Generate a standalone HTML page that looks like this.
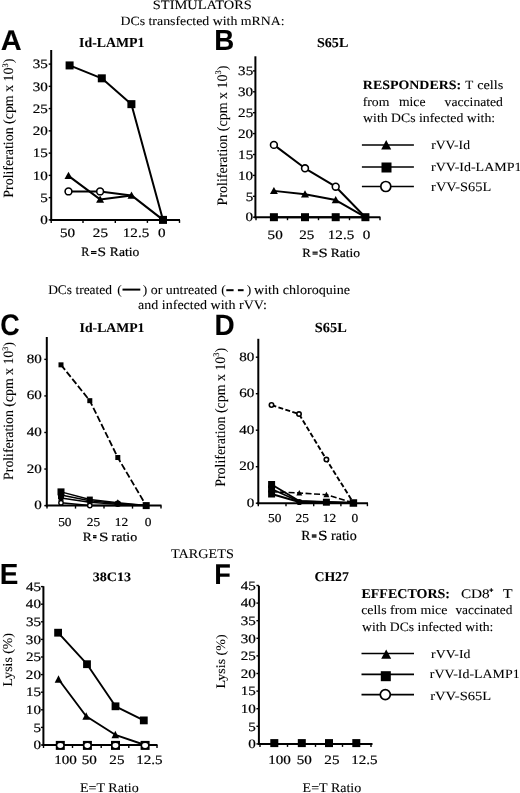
<!DOCTYPE html>
<html><head><meta charset="utf-8"><style>
html,body{margin:0;padding:0;background:#fff;}
body{width:520px;height:793px;overflow:hidden;}
svg{display:block;filter:grayscale(1) blur(0.35px);}
text{fill:#000;stroke:#000;stroke-width:0.08px;text-rendering:geometricPrecision;}
text.n{stroke-width:0.2px;}
text.s{stroke-width:0.2px;}
</style></head><body>
<svg width="520" height="793" viewBox="0 0 520 793">
<rect width="520" height="793" fill="#fff"/>
<text transform="translate(152.83,8.7) scale(1.1236,1)" font-family='"Liberation Serif", serif' font-weight="normal" font-size="12.83">STIMULATORS</text>
<text transform="translate(120.42,25.3) scale(1.0986,1)" font-family='"Liberation Serif", serif' font-weight="normal" font-size="12.62">DCs transfected with mRNA:</text>
<text transform="translate(0.68,49.8) scale(1.0156,1)" font-family='"Liberation Sans", sans-serif' font-weight="bold" font-size="28.51">A</text>
<text transform="translate(214.33,50) scale(0.9524,1)" font-family='"Liberation Sans", sans-serif' font-weight="bold" font-size="29.09">B</text>
<text transform="translate(0.13,335.4) scale(0.9011,1)" font-family='"Liberation Sans", sans-serif' font-weight="bold" font-size="29.82">C</text>
<text transform="translate(214.52,335.2) scale(0.9502,1)" font-family='"Liberation Sans", sans-serif' font-weight="bold" font-size="29.38">D</text>
<text transform="translate(-0.18,583.6) scale(0.9624,1)" font-family='"Liberation Sans", sans-serif' font-weight="bold" font-size="28.95">E</text>
<text transform="translate(214.36,583.6) scale(0.9442,1)" font-family='"Liberation Sans", sans-serif' font-weight="bold" font-size="28.8">F</text>
<text transform="translate(79.05,46.5) scale(1.0038,1)" font-family='"Liberation Serif", serif' font-weight="bold" font-size="13.81">Id-LAMP1</text>
<text transform="translate(316.96,46.5) scale(1.0380,1)" font-family='"Liberation Serif", serif' font-weight="bold" font-size="13.58">S65L</text>
<text transform="translate(79.55,331.9) scale(1.0393,1)" font-family='"Liberation Serif", serif' font-weight="bold" font-size="13.24">Id-LAMP1</text>
<text transform="translate(314.85,331.7) scale(1.0324,1)" font-family='"Liberation Serif", serif' font-weight="bold" font-size="13.89">S65L</text>
<text transform="translate(92.77,581.1) scale(1.0884,1)" font-family='"Liberation Serif", serif' font-weight="bold" font-size="12.93">38C13</text>
<text transform="translate(314.44,581.1) scale(1.0273,1)" font-family='"Liberation Serif", serif' font-weight="bold" font-size="13.43">CH27</text>
<line x1="51.2" y1="50" x2="51.2" y2="220.9" stroke="#000" stroke-width="2"/>
<line x1="50.2" y1="219.9" x2="180" y2="219.9" stroke="#000" stroke-width="2"/>
<line x1="48.7" y1="219.9" x2="51.2" y2="219.9" stroke="#000" stroke-width="1.4"/>
<text transform="translate(40.21,224.1) scale(1.1824,1)" font-family='"Liberation Serif", serif' font-weight="normal" font-size="12.78" class="n">0</text>
<line x1="48.7" y1="197.64" x2="51.2" y2="197.64" stroke="#000" stroke-width="1.4"/>
<text transform="translate(40.25,201.84) scale(1.1824,1)" font-family='"Liberation Serif", serif' font-weight="normal" font-size="12.78" class="n">5</text>
<line x1="48.7" y1="175.38" x2="51.2" y2="175.38" stroke="#000" stroke-width="1.4"/>
<text transform="translate(32.66,179.58) scale(1.1824,1)" font-family='"Liberation Serif", serif' font-weight="normal" font-size="12.78" class="n">10</text>
<line x1="48.7" y1="153.12" x2="51.2" y2="153.12" stroke="#000" stroke-width="1.4"/>
<text transform="translate(32.7,157.32) scale(1.1824,1)" font-family='"Liberation Serif", serif' font-weight="normal" font-size="12.78" class="n">15</text>
<line x1="48.7" y1="130.86" x2="51.2" y2="130.86" stroke="#000" stroke-width="1.4"/>
<text transform="translate(32.66,135.06) scale(1.1824,1)" font-family='"Liberation Serif", serif' font-weight="normal" font-size="12.78" class="n">20</text>
<line x1="48.7" y1="108.6" x2="51.2" y2="108.6" stroke="#000" stroke-width="1.4"/>
<text transform="translate(32.7,112.8) scale(1.1824,1)" font-family='"Liberation Serif", serif' font-weight="normal" font-size="12.78" class="n">25</text>
<line x1="48.7" y1="86.34" x2="51.2" y2="86.34" stroke="#000" stroke-width="1.4"/>
<text transform="translate(32.66,90.54) scale(1.1824,1)" font-family='"Liberation Serif", serif' font-weight="normal" font-size="12.78" class="n">30</text>
<line x1="48.7" y1="64.08" x2="51.2" y2="64.08" stroke="#000" stroke-width="1.4"/>
<text transform="translate(32.7,68.28) scale(1.1824,1)" font-family='"Liberation Serif", serif' font-weight="normal" font-size="12.78" class="n">35</text>
<line x1="51.2" y1="219.9" x2="51.2" y2="222.9" stroke="#000" stroke-width="1.4"/>
<line x1="83" y1="219.9" x2="83" y2="222.9" stroke="#000" stroke-width="1.4"/>
<line x1="115.3" y1="219.9" x2="115.3" y2="222.9" stroke="#000" stroke-width="1.4"/>
<line x1="147.4" y1="219.9" x2="147.4" y2="222.9" stroke="#000" stroke-width="1.4"/>
<line x1="179.5" y1="219.9" x2="179.5" y2="222.9" stroke="#000" stroke-width="1.4"/>
<polyline points="69.6,65.42 101.8,78.33 131.4,104.15 163,219.9" fill="none" stroke="#000" stroke-width="2" stroke-linejoin="round"/>
<polyline points="68.5,175.83 100.1,199.42 131.5,195.41 163,219.9" fill="none" stroke="#000" stroke-width="2" stroke-linejoin="round"/>
<polyline points="68.5,191.41 100.1,191.41 131.5,195.41" fill="none" stroke="#000" stroke-width="2" stroke-linejoin="round"/>
<circle cx="68.5" cy="191.41" r="3.4" fill="#fff" stroke="#000" stroke-width="1.6"/>
<circle cx="100.1" cy="191.41" r="3.4" fill="#fff" stroke="#000" stroke-width="1.6"/>
<polygon points="68.5,171.87 64.5,179.07 72.5,179.07" fill="#000"/>
<polygon points="100.1,195.46 96.1,202.66 104.1,202.66" fill="#000"/>
<polygon points="131.5,191.45 127.5,198.65 135.5,198.65" fill="#000"/>
<rect x="65.6" y="61.42" width="8" height="8" fill="#000"/>
<rect x="97.8" y="74.33" width="8" height="8" fill="#000"/>
<rect x="127.4" y="100.15" width="8" height="8" fill="#000"/>
<rect x="159" y="215.9" width="8" height="8" fill="#000"/>
<text transform="translate(60,237.1) scale(1.1824,1)" font-family='"Liberation Serif", serif' font-weight="normal" font-size="12.78" class="n">50</text>
<text transform="translate(92.83,237.1) scale(1.1824,1)" font-family='"Liberation Serif", serif' font-weight="normal" font-size="12.78" class="n">25</text>
<text transform="translate(122.82,237.1) scale(1.1824,1)" font-family='"Liberation Serif", serif' font-weight="normal" font-size="12.78" class="n">12.5</text>
<text transform="translate(158.02,237.1) scale(1.1824,1)" font-family='"Liberation Serif", serif' font-weight="normal" font-size="12.78" class="n">0</text>
<text transform="translate(81.36,256.3) scale(0.9541,1)" font-family='"Liberation Serif", serif' font-weight="normal" font-size="12.82" class="s">R</text>
<text transform="translate(97.46,256.3) scale(1.2038,1)" font-family='"Liberation Serif", serif' font-weight="normal" font-size="12.82" class="s">S</text>
<text transform="translate(109.83,256.3) scale(1.0607,1)" font-family='"Liberation Serif", serif' font-weight="normal" font-size="12.82" class="s">Ratio</text>
<rect x="91" y="251" width="5.5" height="1.2" fill="#000"/>
<rect x="91" y="252.8" width="5.5" height="1.2" fill="#000"/>
<text transform="translate(13.2,197.68) rotate(-90) scale(0.9812,1)" font-family='"Liberation Serif", serif' font-weight="normal" font-size="14.18">Proliferation (cpm x 10<tspan font-size="8.51" dy="-5.67">3</tspan><tspan dy="5.67">)</tspan></text>
<line x1="255.4" y1="56.3" x2="255.4" y2="218.2" stroke="#000" stroke-width="2"/>
<line x1="254.4" y1="217.2" x2="380.4" y2="217.2" stroke="#000" stroke-width="2"/>
<line x1="252.9" y1="217.2" x2="255.4" y2="217.2" stroke="#000" stroke-width="1.4"/>
<text transform="translate(245.61,221.4) scale(1.1824,1)" font-family='"Liberation Serif", serif' font-weight="normal" font-size="12.78" class="n">0</text>
<line x1="252.9" y1="196.3" x2="255.4" y2="196.3" stroke="#000" stroke-width="1.4"/>
<text transform="translate(245.65,200.5) scale(1.1824,1)" font-family='"Liberation Serif", serif' font-weight="normal" font-size="12.78" class="n">5</text>
<line x1="252.9" y1="175.4" x2="255.4" y2="175.4" stroke="#000" stroke-width="1.4"/>
<text transform="translate(238.06,179.6) scale(1.1824,1)" font-family='"Liberation Serif", serif' font-weight="normal" font-size="12.78" class="n">10</text>
<line x1="252.9" y1="154.5" x2="255.4" y2="154.5" stroke="#000" stroke-width="1.4"/>
<text transform="translate(238.1,158.7) scale(1.1824,1)" font-family='"Liberation Serif", serif' font-weight="normal" font-size="12.78" class="n">15</text>
<line x1="252.9" y1="133.6" x2="255.4" y2="133.6" stroke="#000" stroke-width="1.4"/>
<text transform="translate(238.06,137.8) scale(1.1824,1)" font-family='"Liberation Serif", serif' font-weight="normal" font-size="12.78" class="n">20</text>
<line x1="252.9" y1="112.7" x2="255.4" y2="112.7" stroke="#000" stroke-width="1.4"/>
<text transform="translate(238.1,116.9) scale(1.1824,1)" font-family='"Liberation Serif", serif' font-weight="normal" font-size="12.78" class="n">25</text>
<line x1="252.9" y1="91.8" x2="255.4" y2="91.8" stroke="#000" stroke-width="1.4"/>
<text transform="translate(238.06,96) scale(1.1824,1)" font-family='"Liberation Serif", serif' font-weight="normal" font-size="12.78" class="n">30</text>
<line x1="252.9" y1="70.9" x2="255.4" y2="70.9" stroke="#000" stroke-width="1.4"/>
<text transform="translate(238.1,75.1) scale(1.1824,1)" font-family='"Liberation Serif", serif' font-weight="normal" font-size="12.78" class="n">35</text>
<line x1="256" y1="217.2" x2="256" y2="220.2" stroke="#000" stroke-width="1.4"/>
<line x1="287.5" y1="217.2" x2="287.5" y2="220.2" stroke="#000" stroke-width="1.4"/>
<line x1="318.5" y1="217.2" x2="318.5" y2="220.2" stroke="#000" stroke-width="1.4"/>
<line x1="349.5" y1="217.2" x2="349.5" y2="220.2" stroke="#000" stroke-width="1.4"/>
<line x1="380" y1="217.2" x2="380" y2="220.2" stroke="#000" stroke-width="1.4"/>
<polyline points="273.9,144.89 305,168.29 335.7,186.69 365.4,217.2" fill="none" stroke="#000" stroke-width="2" stroke-linejoin="round"/>
<polyline points="273.9,190.87 305,194.21 335.7,200.06 365.4,217.2" fill="none" stroke="#000" stroke-width="2" stroke-linejoin="round"/>
<polyline points="273.9,217.2 305,217.2 335.7,217.2 365.4,217.2" fill="none" stroke="#000" stroke-width="2" stroke-linejoin="round"/>
<circle cx="273.9" cy="144.89" r="3.4" fill="#fff" stroke="#000" stroke-width="1.6"/>
<circle cx="305" cy="168.29" r="3.4" fill="#fff" stroke="#000" stroke-width="1.6"/>
<circle cx="335.7" cy="186.69" r="3.4" fill="#fff" stroke="#000" stroke-width="1.6"/>
<polygon points="273.9,186.91 269.9,194.11 277.9,194.11" fill="#000"/>
<polygon points="305,190.25 301,197.45 309,197.45" fill="#000"/>
<polygon points="335.7,196.1 331.7,203.3 339.7,203.3" fill="#000"/>
<rect x="269.9" y="213.2" width="8" height="8" fill="#000"/>
<rect x="301" y="213.2" width="8" height="8" fill="#000"/>
<rect x="331.7" y="213.2" width="8" height="8" fill="#000"/>
<rect x="361.4" y="213.2" width="8" height="8" fill="#000"/>
<text transform="translate(267.6,238.6) scale(1.1824,1)" font-family='"Liberation Serif", serif' font-weight="normal" font-size="12.78" class="n">50</text>
<text transform="translate(299.23,238.6) scale(1.1824,1)" font-family='"Liberation Serif", serif' font-weight="normal" font-size="12.78" class="n">25</text>
<text transform="translate(327.82,238.6) scale(1.1824,1)" font-family='"Liberation Serif", serif' font-weight="normal" font-size="12.78" class="n">12.5</text>
<text transform="translate(362.82,238.6) scale(1.1824,1)" font-family='"Liberation Serif", serif' font-weight="normal" font-size="12.78" class="n">0</text>
<text transform="translate(302.35,256.9) scale(1.0275,1)" font-family='"Liberation Serif", serif' font-weight="normal" font-size="12.52" class="s">R</text>
<text transform="translate(318.38,256.9) scale(1.3266,1)" font-family='"Liberation Serif", serif' font-weight="normal" font-size="12.52" class="s">S</text>
<text transform="translate(330.63,256.9) scale(1.0828,1)" font-family='"Liberation Serif", serif' font-weight="normal" font-size="12.52" class="s">Ratio</text>
<rect x="312.5" y="251.6" width="5.2" height="1.2" fill="#000"/>
<rect x="312.5" y="253.4" width="5.2" height="1.2" fill="#000"/>
<text transform="translate(226.5,205.38) rotate(-90) scale(0.9668,1)" font-family='"Liberation Serif", serif' font-weight="normal" font-size="14.47">Proliferation (cpm x 10<tspan font-size="8.68" dy="-5.79">3</tspan><tspan dy="5.79">)</tspan></text>
<text transform="translate(362.86,89.3) scale(1.0992,1)" font-family='"Liberation Serif", serif' font-weight="bold" font-size="12.68">RESPONDERS:</text>
<text transform="translate(465.17,89.3) scale(1.0385,1)" font-family='"Liberation Serif", serif' font-weight="normal" font-size="12.67">T</text>
<text transform="translate(477.16,89.3) scale(1.1409,1)" font-family='"Liberation Serif", serif' font-weight="normal" font-size="12.52">cells</text>
<text transform="translate(362.69,105.5) scale(1.0896,1)" font-family='"Liberation Serif", serif' font-weight="normal" font-size="12.62">from</text>
<text transform="translate(398.93,105.5) scale(1.0161,1)" font-family='"Liberation Serif", serif' font-weight="normal" font-size="13.43">mice</text>
<text transform="translate(444.6,105.5) scale(1.0662,1)" font-family='"Liberation Serif", serif' font-weight="normal" font-size="12.81">vaccinated</text>
<text transform="translate(363.1,121.6) scale(1.0791,1)" font-family='"Liberation Serif", serif' font-weight="normal" font-size="12.77">with DCs infected with:</text>
<line x1="361.9" y1="145" x2="413.9" y2="145" stroke="#000" stroke-width="1.7"/>
<polygon points="386.2,140.02 381.2,149.62 391.2,149.62" fill="#000"/>
<line x1="361.9" y1="167" x2="413.9" y2="167" stroke="#000" stroke-width="1.7"/>
<rect x="381.5" y="162.5" width="10" height="10" fill="#000"/>
<line x1="361.9" y1="186.5" x2="413.9" y2="186.5" stroke="#000" stroke-width="1.7"/>
<circle cx="385.8" cy="186.5" r="5" fill="#fff" stroke="#000" stroke-width="1.7"/>
<text transform="translate(431.13,148.6) scale(1.0754,1)" font-family='"Liberation Serif", serif' font-weight="normal" font-size="12.66">rVV-Id</text>
<text transform="translate(431.12,170.5) scale(1.1165,1)" font-family='"Liberation Serif", serif' font-weight="normal" font-size="12.52">rVV-Id-LAMP1</text>
<text transform="translate(431.11,190.8) scale(1.1072,1)" font-family='"Liberation Serif", serif' font-weight="normal" font-size="12.98">rVV-S65L</text>
<text transform="translate(48.13,293.5) scale(1.0286,1)" font-family='"Liberation Serif", serif' font-weight="normal" font-size="13.09">DCs treated</text>
<text transform="translate(117.13,293.5) scale(1.0286,1)" font-family='"Liberation Serif", serif' font-weight="normal" font-size="13.09">(</text>
<line x1="122.5" y1="289.6" x2="140.3" y2="289.6" stroke="#000" stroke-width="2"/>
<text transform="translate(142.76,293.5) scale(1.0286,1)" font-family='"Liberation Serif", serif' font-weight="normal" font-size="13.09">)</text>
<text transform="translate(150.78,293.5) scale(1.0574,1)" font-family='"Liberation Serif", serif' font-weight="normal" font-size="13.09">or untreated</text>
<text transform="translate(221.13,293.5) scale(1.0286,1)" font-family='"Liberation Serif", serif' font-weight="normal" font-size="13.09">(</text>
<line x1="226.3" y1="290.2" x2="233.6" y2="290.2" stroke="#000" stroke-width="2"/>
<line x1="237.9" y1="290.2" x2="243.6" y2="290.2" stroke="#000" stroke-width="2"/>
<text transform="translate(246.66,293.5) scale(1.0286,1)" font-family='"Liberation Serif", serif' font-weight="normal" font-size="13.09">)</text>
<text transform="translate(254,293.5) scale(1.0796,1)" font-family='"Liberation Serif", serif' font-weight="normal" font-size="13.09">with chloroquine</text>
<text transform="translate(138.01,309.4) scale(1.0734,1)" font-family='"Liberation Serif", serif' font-weight="normal" font-size="13.09">and infected with rVV:</text>
<line x1="46.8" y1="337" x2="46.8" y2="506.6" stroke="#000" stroke-width="2"/>
<line x1="45.8" y1="505.6" x2="161.5" y2="505.6" stroke="#000" stroke-width="2"/>
<line x1="44.3" y1="505.6" x2="46.8" y2="505.6" stroke="#000" stroke-width="1.4"/>
<text transform="translate(34.31,509.1) scale(1.1824,1)" font-family='"Liberation Serif", serif' font-weight="normal" font-size="12.78" class="n">0</text>
<line x1="44.3" y1="469.04" x2="46.8" y2="469.04" stroke="#000" stroke-width="1.4"/>
<text transform="translate(26.76,472.54) scale(1.1824,1)" font-family='"Liberation Serif", serif' font-weight="normal" font-size="12.78" class="n">20</text>
<line x1="44.3" y1="432.48" x2="46.8" y2="432.48" stroke="#000" stroke-width="1.4"/>
<text transform="translate(26.76,435.98) scale(1.1824,1)" font-family='"Liberation Serif", serif' font-weight="normal" font-size="12.78" class="n">40</text>
<line x1="44.3" y1="395.92" x2="46.8" y2="395.92" stroke="#000" stroke-width="1.4"/>
<text transform="translate(26.76,399.42) scale(1.1824,1)" font-family='"Liberation Serif", serif' font-weight="normal" font-size="12.78" class="n">60</text>
<line x1="44.3" y1="359.36" x2="46.8" y2="359.36" stroke="#000" stroke-width="1.4"/>
<text transform="translate(26.76,362.86) scale(1.1824,1)" font-family='"Liberation Serif", serif' font-weight="normal" font-size="12.78" class="n">80</text>
<line x1="47" y1="505.6" x2="47" y2="508.6" stroke="#000" stroke-width="1.4"/>
<line x1="75.5" y1="505.6" x2="75.5" y2="508.6" stroke="#000" stroke-width="1.4"/>
<line x1="104" y1="505.6" x2="104" y2="508.6" stroke="#000" stroke-width="1.4"/>
<line x1="132.5" y1="505.6" x2="132.5" y2="508.6" stroke="#000" stroke-width="1.4"/>
<line x1="161" y1="505.6" x2="161" y2="508.6" stroke="#000" stroke-width="1.4"/>
<polyline points="61,364.84 89.8,400.67 117.8,457.52 146.2,505.6" fill="none" stroke="#000" stroke-width="1.8" stroke-linejoin="round" stroke-dasharray="6.5,2.5"/>
<rect x="58.5" y="362.34" width="5" height="5" fill="#000"/>
<rect x="87.3" y="398.17" width="5" height="5" fill="#000"/>
<rect x="115.3" y="455.02" width="5" height="5" fill="#000"/>
<polyline points="61,491.89 89.8,499.57 117.8,502.86 146.2,505.6" fill="none" stroke="#000" stroke-width="1.5" stroke-linejoin="round"/>
<polyline points="61,495 89.8,500.85 117.8,503.41 146.2,505.6" fill="none" stroke="#000" stroke-width="1.5" stroke-linejoin="round"/>
<polyline points="61,497.92 89.8,502.31 117.8,504.14 146.2,505.6" fill="none" stroke="#000" stroke-width="1.5" stroke-linejoin="round"/>
<polyline points="61,502.68 89.8,505.6 117.8,505.6 146.2,505.6" fill="none" stroke="#000" stroke-width="1.5" stroke-linejoin="round"/>
<rect x="57.5" y="488.39" width="7" height="7" fill="#000"/>
<rect x="58" y="493.09" width="6" height="6" fill="#000"/>
<polygon points="61,495.54 58,500.54 64,500.54" fill="#000"/>
<circle cx="61" cy="502.68" r="2.2" fill="#fff" stroke="#000" stroke-width="1.4"/>
<rect x="86.8" y="496.57" width="6" height="6" fill="#000"/>
<polygon points="89.8,498.83 86.8,503.83 92.8,503.83" fill="#000"/>
<circle cx="89.8" cy="505.6" r="2.2" fill="#fff" stroke="#000" stroke-width="1.4"/>
<circle cx="117.8" cy="503.77" r="3.3" fill="#000"/>
<polygon points="117.8,499.19 114.8,504.19 120.8,504.19" fill="#000"/>
<rect x="142.7" y="502.1" width="7" height="7" fill="#000"/>
<text transform="translate(58.16,525.6) scale(1.1044,1)" font-family='"Liberation Serif", serif' font-weight="normal" font-size="12.14" class="n">50</text>
<text transform="translate(86.78,525.6) scale(1.1044,1)" font-family='"Liberation Serif", serif' font-weight="normal" font-size="12.14" class="n">25</text>
<text transform="translate(114.78,525.6) scale(1.1044,1)" font-family='"Liberation Serif", serif' font-weight="normal" font-size="12.14" class="n">12</text>
<text transform="translate(144.75,525.6) scale(1.1044,1)" font-family='"Liberation Serif", serif' font-weight="normal" font-size="12.14" class="n">0</text>
<text transform="translate(82.83,540.5) scale(1.0646,1)" font-family='"Liberation Serif", serif' font-weight="normal" font-size="12.67" class="s">R</text>
<text transform="translate(99.05,540.5) scale(1.3476,1)" font-family='"Liberation Serif", serif' font-weight="normal" font-size="12.67" class="s">S</text>
<text transform="translate(111.52,540.5) scale(1.1115,1)" font-family='"Liberation Serif", serif' font-weight="normal" font-size="12.67" class="s">ratio</text>
<rect x="93" y="535.1" width="3.5" height="1.4" fill="#000"/>
<rect x="93" y="536.9" width="3.5" height="1.4" fill="#000"/>
<text transform="translate(13.2,479.88) rotate(-90) scale(0.9734,1)" font-family='"Liberation Serif", serif' font-weight="normal" font-size="14.18">Proliferation (cpm x 10<tspan font-size="8.51" dy="-5.67">3</tspan><tspan dy="5.67">)</tspan></text>
<line x1="258.3" y1="338.8" x2="258.3" y2="504.2" stroke="#000" stroke-width="2"/>
<line x1="257.3" y1="503.2" x2="368" y2="503.2" stroke="#000" stroke-width="2"/>
<line x1="255.8" y1="503.2" x2="258.3" y2="503.2" stroke="#000" stroke-width="1.4"/>
<text transform="translate(246.81,506.7) scale(1.1824,1)" font-family='"Liberation Serif", serif' font-weight="normal" font-size="12.78" class="n">0</text>
<line x1="255.8" y1="466.7" x2="258.3" y2="466.7" stroke="#000" stroke-width="1.4"/>
<text transform="translate(239.26,470.2) scale(1.1824,1)" font-family='"Liberation Serif", serif' font-weight="normal" font-size="12.78" class="n">20</text>
<line x1="255.8" y1="430.2" x2="258.3" y2="430.2" stroke="#000" stroke-width="1.4"/>
<text transform="translate(239.26,433.7) scale(1.1824,1)" font-family='"Liberation Serif", serif' font-weight="normal" font-size="12.78" class="n">40</text>
<line x1="255.8" y1="393.7" x2="258.3" y2="393.7" stroke="#000" stroke-width="1.4"/>
<text transform="translate(239.26,397.2) scale(1.1824,1)" font-family='"Liberation Serif", serif' font-weight="normal" font-size="12.78" class="n">60</text>
<line x1="255.8" y1="357.2" x2="258.3" y2="357.2" stroke="#000" stroke-width="1.4"/>
<text transform="translate(239.26,360.7) scale(1.1824,1)" font-family='"Liberation Serif", serif' font-weight="normal" font-size="12.78" class="n">80</text>
<line x1="258.3" y1="503.2" x2="258.3" y2="506.2" stroke="#000" stroke-width="1.4"/>
<line x1="286" y1="503.2" x2="286" y2="506.2" stroke="#000" stroke-width="1.4"/>
<line x1="313.7" y1="503.2" x2="313.7" y2="506.2" stroke="#000" stroke-width="1.4"/>
<line x1="340.9" y1="503.2" x2="340.9" y2="506.2" stroke="#000" stroke-width="1.4"/>
<line x1="367.4" y1="503.2" x2="367.4" y2="506.2" stroke="#000" stroke-width="1.4"/>
<polyline points="271.5,405 299,414.1 326.4,459.6 353.4,502.8" fill="none" stroke="#000" stroke-width="1.9" stroke-linejoin="round" stroke-dasharray="5,2.3"/>
<circle cx="271.5" cy="405" r="2.2" fill="#fff" stroke="#000" stroke-width="1.6"/>
<circle cx="299" cy="414.1" r="2.2" fill="#fff" stroke="#000" stroke-width="1.6"/>
<circle cx="326.4" cy="459.6" r="2.2" fill="#fff" stroke="#000" stroke-width="1.6"/>
<polyline points="271.6,491.8 299.3,493 326.4,494.7 353.4,503" fill="none" stroke="#000" stroke-width="1.6" stroke-linejoin="round" stroke-dasharray="6,2.5"/>
<polyline points="271.6,484.5 299.3,501 326.4,502 353.4,503" fill="none" stroke="#000" stroke-width="1.9" stroke-linejoin="round"/>
<polyline points="271.6,489 299.3,501.5 326.4,502.3 353.4,503" fill="none" stroke="#000" stroke-width="1.9" stroke-linejoin="round"/>
<polyline points="271.6,494 299.3,502 326.4,502.6 353.4,503" fill="none" stroke="#000" stroke-width="1.9" stroke-linejoin="round"/>
<rect x="268.1" y="481" width="7" height="7" fill="#000"/>
<rect x="268.1" y="485.5" width="7" height="7" fill="#000"/>
<rect x="268.1" y="490.5" width="7" height="7" fill="#000"/>
<polygon points="299.3,489.98 296.3,495.48 302.3,495.48" fill="#000"/>
<polygon points="326.4,491.68 323.4,497.18 329.4,497.18" fill="#000"/>
<circle cx="299.3" cy="502" r="3.1" fill="#000"/>
<rect x="322.9" y="498.7" width="7" height="7" fill="#000"/>
<rect x="349.65" y="499.25" width="7.5" height="7.5" fill="#000"/>
<text transform="translate(268.06,521.5) scale(1.1044,1)" font-family='"Liberation Serif", serif' font-weight="normal" font-size="12.14" class="n">50</text>
<text transform="translate(295.58,521.5) scale(1.1044,1)" font-family='"Liberation Serif", serif' font-weight="normal" font-size="12.14" class="n">25</text>
<text transform="translate(322.78,521.5) scale(1.1044,1)" font-family='"Liberation Serif", serif' font-weight="normal" font-size="12.14" class="n">12</text>
<text transform="translate(351.45,521.5) scale(1.1044,1)" font-family='"Liberation Serif", serif' font-weight="normal" font-size="12.14" class="n">0</text>
<text transform="translate(301.32,539.8) scale(0.9936,1)" font-family='"Liberation Serif", serif' font-weight="normal" font-size="13.89" class="s">R</text>
<text transform="translate(318.03,539.8) scale(1.2459,1)" font-family='"Liberation Serif", serif' font-weight="normal" font-size="13.89" class="s">S</text>
<text transform="translate(331.02,539.8) scale(1.0097,1)" font-family='"Liberation Serif", serif' font-weight="normal" font-size="13.89" class="s">ratio</text>
<rect x="311.8" y="534.4" width="4.7" height="1.4" fill="#000"/>
<rect x="311.8" y="536.2" width="4.7" height="1.4" fill="#000"/>
<text transform="translate(224.9,486.78) rotate(-90) scale(0.9606,1)" font-family='"Liberation Serif", serif' font-weight="normal" font-size="14.47">Proliferation (cpm x 10<tspan font-size="8.68" dy="-5.79">3</tspan><tspan dy="5.79">)</tspan></text>
<text transform="translate(171.05,557.5) scale(1.0820,1)" font-family='"Liberation Serif", serif' font-weight="normal" font-size="13.13">TARGETS</text>
<line x1="43.4" y1="586.2" x2="43.4" y2="746" stroke="#000" stroke-width="2"/>
<line x1="42.4" y1="745" x2="157.5" y2="745" stroke="#000" stroke-width="2"/>
<line x1="40.9" y1="745" x2="43.4" y2="745" stroke="#000" stroke-width="1.4"/>
<text transform="translate(33.41,749.2) scale(1.1824,1)" font-family='"Liberation Serif", serif' font-weight="normal" font-size="12.78" class="n">0</text>
<line x1="40.9" y1="727.4" x2="43.4" y2="727.4" stroke="#000" stroke-width="1.4"/>
<text transform="translate(33.45,731.6) scale(1.1824,1)" font-family='"Liberation Serif", serif' font-weight="normal" font-size="12.78" class="n">5</text>
<line x1="40.9" y1="709.8" x2="43.4" y2="709.8" stroke="#000" stroke-width="1.4"/>
<text transform="translate(25.86,714) scale(1.1824,1)" font-family='"Liberation Serif", serif' font-weight="normal" font-size="12.78" class="n">10</text>
<line x1="40.9" y1="692.2" x2="43.4" y2="692.2" stroke="#000" stroke-width="1.4"/>
<text transform="translate(25.9,696.4) scale(1.1824,1)" font-family='"Liberation Serif", serif' font-weight="normal" font-size="12.78" class="n">15</text>
<line x1="40.9" y1="674.6" x2="43.4" y2="674.6" stroke="#000" stroke-width="1.4"/>
<text transform="translate(25.86,678.8) scale(1.1824,1)" font-family='"Liberation Serif", serif' font-weight="normal" font-size="12.78" class="n">20</text>
<line x1="40.9" y1="657" x2="43.4" y2="657" stroke="#000" stroke-width="1.4"/>
<text transform="translate(25.9,661.2) scale(1.1824,1)" font-family='"Liberation Serif", serif' font-weight="normal" font-size="12.78" class="n">25</text>
<line x1="40.9" y1="639.4" x2="43.4" y2="639.4" stroke="#000" stroke-width="1.4"/>
<text transform="translate(25.86,643.6) scale(1.1824,1)" font-family='"Liberation Serif", serif' font-weight="normal" font-size="12.78" class="n">30</text>
<line x1="40.9" y1="621.8" x2="43.4" y2="621.8" stroke="#000" stroke-width="1.4"/>
<text transform="translate(25.9,626) scale(1.1824,1)" font-family='"Liberation Serif", serif' font-weight="normal" font-size="12.78" class="n">35</text>
<line x1="40.9" y1="604.2" x2="43.4" y2="604.2" stroke="#000" stroke-width="1.4"/>
<text transform="translate(25.86,608.4) scale(1.1824,1)" font-family='"Liberation Serif", serif' font-weight="normal" font-size="12.78" class="n">40</text>
<line x1="40.9" y1="586.6" x2="43.4" y2="586.6" stroke="#000" stroke-width="1.4"/>
<text transform="translate(25.9,590.8) scale(1.1824,1)" font-family='"Liberation Serif", serif' font-weight="normal" font-size="12.78" class="n">45</text>
<line x1="43.5" y1="745" x2="43.5" y2="748" stroke="#000" stroke-width="1.4"/>
<line x1="72.5" y1="745" x2="72.5" y2="748" stroke="#000" stroke-width="1.4"/>
<line x1="101.2" y1="745" x2="101.2" y2="748" stroke="#000" stroke-width="1.4"/>
<line x1="128.8" y1="745" x2="128.8" y2="748" stroke="#000" stroke-width="1.4"/>
<line x1="157" y1="745" x2="157" y2="748" stroke="#000" stroke-width="1.4"/>
<polyline points="58.1,632.7 87,664.2 115.5,706.3 143.8,720.4" fill="none" stroke="#000" stroke-width="1.9" stroke-linejoin="round"/>
<polyline points="58.5,679.3 86.2,716.3 115.3,734.8 145,745" fill="none" stroke="#000" stroke-width="1.9" stroke-linejoin="round"/>
<rect x="54.2" y="628.8" width="7.8" height="7.8" fill="#000"/>
<rect x="83.1" y="660.3" width="7.8" height="7.8" fill="#000"/>
<rect x="111.6" y="702.4" width="7.8" height="7.8" fill="#000"/>
<rect x="139.9" y="716.5" width="7.8" height="7.8" fill="#000"/>
<polygon points="58.5,675.23 54.7,682.63 62.3,682.63" fill="#000"/>
<polygon points="86.2,712.23 82.4,719.63 90,719.63" fill="#000"/>
<polygon points="115.3,730.73 111.5,738.13 119.1,738.13" fill="#000"/>
<rect x="55.8" y="740.9" width="9" height="9" fill="#000"/>
<ellipse cx="60.3" cy="745.5" rx="2.9" ry="2.4" fill="#fff"/>
<rect x="82.9" y="740.9" width="9" height="9" fill="#000"/>
<ellipse cx="87.4" cy="745.5" rx="2.9" ry="2.4" fill="#fff"/>
<rect x="111" y="740.9" width="9" height="9" fill="#000"/>
<ellipse cx="115.5" cy="745.5" rx="2.9" ry="2.4" fill="#fff"/>
<rect x="140.6" y="740.9" width="9" height="9" fill="#000"/>
<ellipse cx="145.1" cy="745.5" rx="2.9" ry="2.4" fill="#fff"/>
<text transform="translate(54.18,763.8) scale(1.1824,1)" font-family='"Liberation Serif", serif' font-weight="normal" font-size="12.78" class="n">100</text>
<text transform="translate(81.63,763.8) scale(1.1824,1)" font-family='"Liberation Serif", serif' font-weight="normal" font-size="12.78" class="n">50</text>
<text transform="translate(109.36,763.8) scale(1.1824,1)" font-family='"Liberation Serif", serif' font-weight="normal" font-size="12.78" class="n">25</text>
<text transform="translate(136.18,763.8) scale(1.1824,1)" font-family='"Liberation Serif", serif' font-weight="normal" font-size="12.78" class="n">12.5</text>
<text transform="translate(80.01,792.4) scale(1.0702,1)" font-family='"Liberation Serif", serif' font-weight="normal" font-size="13.13">E=T Ratio</text>
<text transform="translate(12.3,686.38) rotate(-90) scale(1.0222,1)" font-family='"Liberation Serif", serif' font-weight="normal" font-size="13.53">Lysis (%)</text>
<line x1="258.9" y1="585.8" x2="258.9" y2="744.9" stroke="#000" stroke-width="2"/>
<line x1="257.9" y1="743.9" x2="372.5" y2="743.9" stroke="#000" stroke-width="2"/>
<line x1="256.4" y1="743.9" x2="258.9" y2="743.9" stroke="#000" stroke-width="1.4"/>
<text transform="translate(248.21,748.1) scale(1.1824,1)" font-family='"Liberation Serif", serif' font-weight="normal" font-size="12.78" class="n">0</text>
<line x1="256.4" y1="726.3" x2="258.9" y2="726.3" stroke="#000" stroke-width="1.4"/>
<text transform="translate(248.25,730.5) scale(1.1824,1)" font-family='"Liberation Serif", serif' font-weight="normal" font-size="12.78" class="n">5</text>
<line x1="256.4" y1="708.7" x2="258.9" y2="708.7" stroke="#000" stroke-width="1.4"/>
<text transform="translate(240.66,712.9) scale(1.1824,1)" font-family='"Liberation Serif", serif' font-weight="normal" font-size="12.78" class="n">10</text>
<line x1="256.4" y1="691.1" x2="258.9" y2="691.1" stroke="#000" stroke-width="1.4"/>
<text transform="translate(240.7,695.3) scale(1.1824,1)" font-family='"Liberation Serif", serif' font-weight="normal" font-size="12.78" class="n">15</text>
<line x1="256.4" y1="673.5" x2="258.9" y2="673.5" stroke="#000" stroke-width="1.4"/>
<text transform="translate(240.66,677.7) scale(1.1824,1)" font-family='"Liberation Serif", serif' font-weight="normal" font-size="12.78" class="n">20</text>
<line x1="256.4" y1="655.9" x2="258.9" y2="655.9" stroke="#000" stroke-width="1.4"/>
<text transform="translate(240.7,660.1) scale(1.1824,1)" font-family='"Liberation Serif", serif' font-weight="normal" font-size="12.78" class="n">25</text>
<line x1="256.4" y1="638.3" x2="258.9" y2="638.3" stroke="#000" stroke-width="1.4"/>
<text transform="translate(240.66,642.5) scale(1.1824,1)" font-family='"Liberation Serif", serif' font-weight="normal" font-size="12.78" class="n">30</text>
<line x1="256.4" y1="620.7" x2="258.9" y2="620.7" stroke="#000" stroke-width="1.4"/>
<text transform="translate(240.7,624.9) scale(1.1824,1)" font-family='"Liberation Serif", serif' font-weight="normal" font-size="12.78" class="n">35</text>
<line x1="256.4" y1="603.1" x2="258.9" y2="603.1" stroke="#000" stroke-width="1.4"/>
<text transform="translate(240.66,607.3) scale(1.1824,1)" font-family='"Liberation Serif", serif' font-weight="normal" font-size="12.78" class="n">40</text>
<line x1="256.4" y1="585.5" x2="258.9" y2="585.5" stroke="#000" stroke-width="1.4"/>
<text transform="translate(240.7,589.7) scale(1.1824,1)" font-family='"Liberation Serif", serif' font-weight="normal" font-size="12.78" class="n">45</text>
<line x1="260" y1="743.9" x2="260" y2="746.9" stroke="#000" stroke-width="1.4"/>
<line x1="287.5" y1="743.9" x2="287.5" y2="746.9" stroke="#000" stroke-width="1.4"/>
<line x1="315.5" y1="743.9" x2="315.5" y2="746.9" stroke="#000" stroke-width="1.4"/>
<line x1="342.5" y1="743.9" x2="342.5" y2="746.9" stroke="#000" stroke-width="1.4"/>
<line x1="371" y1="743.9" x2="371" y2="746.9" stroke="#000" stroke-width="1.4"/>
<rect x="270.3" y="739.1" width="8" height="8" fill="#000"/>
<rect x="297.8" y="739.1" width="8" height="8" fill="#000"/>
<rect x="325" y="739.1" width="8" height="8" fill="#000"/>
<rect x="352.3" y="739.1" width="8" height="8" fill="#000"/>
<text transform="translate(268.18,763.6) scale(1.1824,1)" font-family='"Liberation Serif", serif' font-weight="normal" font-size="12.78" class="n">100</text>
<text transform="translate(296.63,763.6) scale(1.1824,1)" font-family='"Liberation Serif", serif' font-weight="normal" font-size="12.78" class="n">50</text>
<text transform="translate(324.36,763.6) scale(1.1824,1)" font-family='"Liberation Serif", serif' font-weight="normal" font-size="12.78" class="n">25</text>
<text transform="translate(351.18,763.6) scale(1.1824,1)" font-family='"Liberation Serif", serif' font-weight="normal" font-size="12.78" class="n">12.5</text>
<text transform="translate(302.61,792.2) scale(1.0683,1)" font-family='"Liberation Serif", serif' font-weight="normal" font-size="13.13">E=T Ratio</text>
<text transform="translate(224.9,688.49) rotate(-90) scale(1.0721,1)" font-family='"Liberation Serif", serif' font-weight="normal" font-size="13.09">Lysis (%)</text>
<text transform="translate(361.45,597.6) scale(1.0441,1)" font-family='"Liberation Serif", serif' font-weight="bold" font-size="13.43">EFFECTORS:</text>
<text transform="translate(460.89,597.6) scale(1.1682,1)" font-family='"Liberation Serif", serif' font-weight="normal" font-size="13.08">CD8</text>
<line x1="489.4" y1="590.1" x2="493.2" y2="590.1" stroke="#000" stroke-width="1.1"/>
<line x1="491.3" y1="588.2" x2="491.3" y2="592" stroke="#000" stroke-width="1.1"/>
<text transform="translate(502.72,597.6) scale(1.2124,1)" font-family='"Liberation Serif", serif' font-weight="normal" font-size="13.28">T</text>
<text transform="translate(361.18,614.3) scale(1.0856,1)" font-family='"Liberation Serif", serif' font-weight="normal" font-size="12.77">cells from mice</text>
<text transform="translate(455.4,614.3) scale(1.0308,1)" font-family='"Liberation Serif", serif' font-weight="normal" font-size="12.95">vaccinated</text>
<text transform="translate(362,630.9) scale(1.0623,1)" font-family='"Liberation Serif", serif' font-weight="normal" font-size="12.91">with DCs infected with:</text>
<line x1="361.5" y1="653.5" x2="414" y2="653.5" stroke="#000" stroke-width="1.7"/>
<polygon points="386.2,649.43 381.2,658.83 391.2,658.83" fill="#000"/>
<line x1="361.5" y1="674.3" x2="414" y2="674.3" stroke="#000" stroke-width="1.7"/>
<rect x="380.8" y="671.2" width="10" height="10" fill="#000"/>
<line x1="361.5" y1="694.6" x2="414" y2="694.6" stroke="#000" stroke-width="1.7"/>
<circle cx="385.3" cy="694.6" r="5" fill="#fff" stroke="#000" stroke-width="1.7"/>
<text transform="translate(431.12,657.6) scale(1.1279,1)" font-family='"Liberation Serif", serif' font-weight="normal" font-size="12.23">rVV-Id</text>
<text transform="translate(429.82,678.2) scale(1.0976,1)" font-family='"Liberation Serif", serif' font-weight="normal" font-size="12.66">rVV-Id-LAMP1</text>
<text transform="translate(430.21,700.3) scale(1.1647,1)" font-family='"Liberation Serif", serif' font-weight="normal" font-size="12.53">rVV-S65L</text>
</svg>
</body></html>
